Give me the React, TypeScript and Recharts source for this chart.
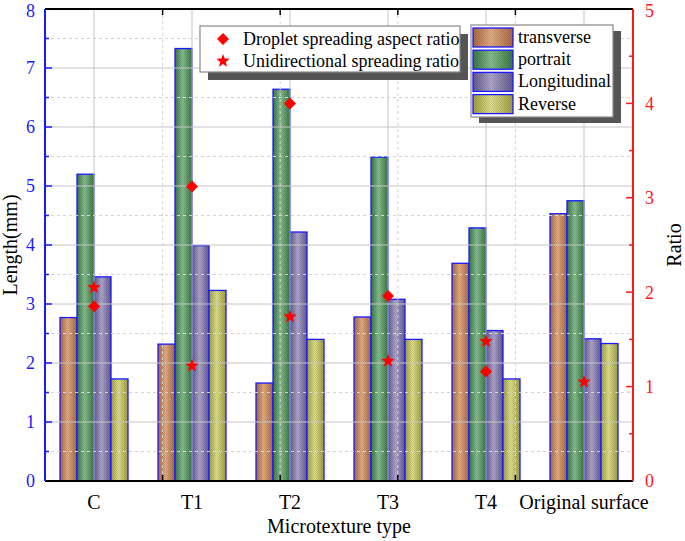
import React from 'react';
import { ComposedChart, Bar, Scatter, XAxis, YAxis, ReferenceLine } from 'recharts';

const categories = ['C', 'T1', 'T2', 'T3', 'T4', 'Original surface'];
const transverse = [2.77, 2.32, 1.66, 2.78, 3.69, 4.53];
const portrait = [5.2, 7.33, 6.64, 5.49, 4.29, 4.75];
const longitudinal = [3.46, 3.99, 4.22, 3.08, 2.55, 2.41];
const reverse = [1.73, 3.23, 2.4, 2.4, 1.73, 2.33];
const aspectRatio: (number | null)[] = [1.85, 3.12, 4.0, 1.96, 1.16, null];
const unidirectionalRatio = [2.05, 1.22, 1.74, 1.27, 1.48, 1.05];

const leftTicks = [0, 1, 2, 3, 4, 5, 6, 7, 8];
const leftGridValues = [0.5, 1, 1.5, 2, 2.5, 3, 3.5, 4, 4.5, 5, 5.5, 6, 6.5, 7, 7.5];
const rightTicks = [0, 1, 2, 3, 4, 5];
const rightMarkValues = [0.5, 1, 1.5, 2, 2.5, 3, 3.5, 4, 4.5];
const boundaries = [1, 2, 3, 4, 5];

const data = categories.map((name, i) => ({
  name,
  transverse: transverse[i],
  portrait: portrait[i],
  longitudinal: longitudinal[i],
  reverse: reverse[i],
  aspect: aspectRatio[i],
  uni: unidirectionalRatio[i],
}));

const FONT = 'Liberation Serif, DejaVu Serif, Times New Roman, serif';

const palette: Record<string, [string, string]> = {
  transverse: ['#b06a3f', '#e8b38a'],
  portrait: ['#3b7a46', '#8cc394'],
  longitudinal: ['#665c90', '#b3abd2'],
  reverse: ['#a4a442', '#e6e692'],
};

const seriesKeys = ['transverse', 'portrait', 'longitudinal', 'reverse'];
const seriesLabels = ['transverse', 'portrait', 'Longitudinal', 'Reverse'];

const Defs = () => (
  <svg width={0} height={0} style={{ position: 'absolute', left: 0, top: 0 }}>
    <defs>
      {seriesKeys.map((k) => (
        <linearGradient key={k} id={`g-${k}`} x1="0" y1="0" x2="1" y2="0">
          <stop offset="0%" stopColor={palette[k][0]} />
          <stop offset="45%" stopColor={palette[k][1]} />
          <stop offset="100%" stopColor={palette[k][0]} />
        </linearGradient>
      ))}
      <pattern id="dots" width="2" height="2" patternUnits="userSpaceOnUse">
        <rect x="0" y="0" width="1" height="1" fill="#000" fillOpacity="0.15" />
        <rect x="1" y="1" width="1" height="1" fill="#000" fillOpacity="0.15" />
      </pattern>
    </defs>
  </svg>
);

const makeBarShape = (k: string) => (props: any) => {
  const { x, y, width, height } = props;
  if (height == null || height <= 0) return <g />;
  return (
    <g>
      <rect x={x} y={y} width={width} height={height} fill={`url(#g-${k})`} />
      <rect x={x} y={y} width={width} height={height} fill="url(#dots)" />
      <rect x={x} y={y} width={width} height={height} fill="none" stroke="#1a1aff" strokeWidth={1.3} />
    </g>
  );
};

const diamondPath = (cx: number, cy: number, r: number) =>
  `M${cx},${cy - r}L${cx + r},${cy}L${cx},${cy + r}L${cx - r},${cy}Z`;

const starPath = (cx: number, cy: number, R: number) => {
  const r = R * 0.42;
  let d = '';
  for (let i = 0; i < 10; i++) {
    const rad = i % 2 === 0 ? R : r;
    const a = -Math.PI / 2 + (i * Math.PI) / 5;
    d += `${i === 0 ? 'M' : 'L'}${cx + rad * Math.cos(a)},${cy + rad * Math.sin(a)}`;
  }
  return d + 'Z';
};

const DiamondShape = (props: any) => {
  const { cx, cy, payload } = props;
  if (payload == null || payload.aspect == null || cx == null || cy == null || isNaN(cy)) return <g />;
  return <path d={diamondPath(cx, cy, 6)} fill="#ff0000" />;
};

const StarShape = (props: any) => {
  const { cx, cy, payload } = props;
  if (payload == null || payload.uni == null || cx == null || cy == null || isNaN(cy)) return <g />;
  return <path d={starPath(cx, cy, 7)} fill="#ff0000" />;
};

const hGrid = (v: number) => (p: any) => {
  const x1 = Math.min(p.x1, p.x2);
  const x2 = Math.max(p.x1, p.x2);
  const y = p.y1;
  const major = Number.isInteger(v);
  return (
    <g>
      <line
        x1={x1}
        x2={x2}
        y1={y}
        y2={y}
        stroke={major ? '#c4c4c4' : '#d4d4d4'}
        strokeWidth={1}
        strokeDasharray={major ? undefined : '3 3'}
      />
      <line x1={x1} x2={x1 + (major ? 7 : 4)} y1={y} y2={y} stroke="#1a1aff" strokeWidth={1.5} />
    </g>
  );
};

const rightMark = (v: number) => (p: any) => {
  const x2 = Math.max(p.x1, p.x2);
  const y = p.y1;
  const major = Number.isInteger(v);
  return <line x1={x2 - (major ? 7 : 4)} x2={x2} y1={y} y2={y} stroke="#ff1a1a" strokeWidth={1.5} />;
};

const vGridCenter = (p: any) => {
  const y1 = Math.min(p.y1, p.y2);
  const y2 = Math.max(p.y1, p.y2);
  return <line x1={p.x1} x2={p.x1} y1={y1} y2={y2} stroke="#c4c4c4" strokeWidth={1} />;
};

const vGridBoundary = (p: any) => {
  const y1 = Math.min(p.y1, p.y2);
  const y2 = Math.max(p.y1, p.y2);
  return (
    <g>
      <line x1={p.x1} x2={p.x1} y1={y1} y2={y2} stroke="#d4d4d4" strokeWidth={1} strokeDasharray="3 3" />
      <line x1={p.x1} x2={p.x1} y1={y1} y2={y1 + 6} stroke="#000" strokeWidth={1.5} />
      <line x1={p.x1} x2={p.x1} y1={y2 - 6} y2={y2} stroke="#000" strokeWidth={1.5} />
    </g>
  );
};

const topLine = (p: any) => {
  const x1 = Math.min(p.x1, p.x2);
  const x2 = Math.max(p.x1, p.x2);
  return <line x1={x1} x2={x2} y1={p.y1} y2={p.y1} stroke="#000" strokeWidth={2} />;
};

const Overlay = () => (
  <svg width={685} height={541} style={{ position: 'absolute', left: 0, top: 0, pointerEvents: 'none' }}>
    {/* scatter legend */}
    <rect x={208} y={34} width={260} height={46} fill="#555" />
    <rect x={200} y={26} width={260} height={46} fill="#fff" stroke="#888" strokeWidth={1.2} />
    <path d={diamondPath(223, 39, 6)} fill="#ff0000" />
    <text x={243} y={45} style={{ fontFamily: FONT, fontSize: 18 }} fill="#000">Droplet spreading aspect ratio</text>
    <path d={starPath(223, 61, 7)} fill="#ff0000" />
    <text x={243} y={67} style={{ fontFamily: FONT, fontSize: 18 }} fill="#000">Unidirectional spreading ratio</text>

    {/* bar legend */}
    <rect x={479} y={31} width={142} height={92} fill="#555" />
    <rect x={471} y={25} width={142} height={92} fill="#fff" stroke="#888" strokeWidth={1.2} />
    {seriesKeys.map((k, i) => {
      const y = 28 + i * 22.2;
      return (
        <g key={k}>
          <rect x={473} y={y} width={40} height={19} fill={`url(#g-${k})`} />
          <rect x={473} y={y} width={40} height={19} fill="url(#dots)" />
          <rect x={473} y={y} width={40} height={19} fill="none" stroke="#1a1aff" strokeWidth={1.3} />
          <text x={518} y={y + 15} style={{ fontFamily: FONT, fontSize: 18 }} fill="#000">
            {seriesLabels[i]}
          </text>
        </g>
      );
    })}

    {/* axis titles */}
    <text
      x={0}
      y={0}
      transform="translate(17,245) rotate(-90)"
      textAnchor="middle"
      style={{ fontFamily: FONT, fontSize: 20 }}
      fill="#000"
    >
      Length(mm)
    </text>
    <text
      x={0}
      y={0}
      transform="translate(681,245) rotate(-90)"
      textAnchor="middle"
      style={{ fontFamily: FONT, fontSize: 20 }}
      fill="#000"
    >
      Ratio
    </text>
    <text x={339} y={533} textAnchor="middle" style={{ fontFamily: FONT, fontSize: 20 }} fill="#000">
      Microtexture type
    </text>
  </svg>
);

export default function App() {
  return (
    <div style={{ position: 'absolute', left: 0, top: 0, width: 685, height: 541, background: '#fff', fontFamily: FONT }}>
      <Defs />
      <ComposedChart
        width={685}
        height={541}
        data={data}
        margin={{ top: 9, right: 0, bottom: 0, left: 0 }}
        barGap={0}
        style={{ fontFamily: FONT }}
      >
        <XAxis xAxisId="bnd" type="number" domain={[0, 6]} hide allowDataOverflow height={0} />
        <XAxis
          dataKey="name"
          xAxisId="cat"
          interval={0}
          height={60}
          axisLine={{ stroke: '#000', strokeWidth: 2 }}
          tickLine={false}
          tickSize={0}
          tickMargin={14}
          tick={{ fill: '#000', fontSize: 20, style: { fontFamily: FONT } }}
        />
        <YAxis
          yAxisId="left"
          domain={[0, 8]}
          ticks={leftTicks}
          width={45}
          axisLine={{ stroke: '#1a1aff', strokeWidth: 2 }}
          tickLine={false}
          tickSize={0}
          tickMargin={10}
          tick={{ fill: '#1a1aff', fontSize: 18, style: { fontFamily: FONT } }}
          allowDataOverflow
        />
        <YAxis
          yAxisId="right"
          orientation="right"
          domain={[0, 5]}
          ticks={rightTicks}
          width={52}
          axisLine={{ stroke: '#ff1a1a', strokeWidth: 2 }}
          tickLine={false}
          tickSize={0}
          tickMargin={12}
          tick={{ fill: '#ff1a1a', fontSize: 18, style: { fontFamily: FONT } }}
          allowDataOverflow
        />

        {leftGridValues.map((v) => (
          <ReferenceLine key={`h${v}`} y={v} yAxisId="left" xAxisId="cat" shape={hGrid(v)} />
        ))}
        {rightMarkValues.map((v) => (
          <ReferenceLine key={`r${v}`} y={v} yAxisId="right" xAxisId="cat" shape={rightMark(v)} />
        ))}
        {categories.map((c) => (
          <ReferenceLine key={`vc${c}`} x={c} xAxisId="cat" yAxisId="left" shape={vGridCenter} />
        ))}
        {boundaries.map((b) => (
          <ReferenceLine key={`vb${b}`} x={b} xAxisId="bnd" yAxisId="left" shape={vGridBoundary} />
        ))}
        <ReferenceLine y={8} yAxisId="left" xAxisId="cat" shape={topLine} />

        {seriesKeys.map((k) => (
          <Bar
            key={k}
            dataKey={k}
            xAxisId="cat"
            yAxisId="left"
            barSize={17}
            isAnimationActive={false}
            shape={makeBarShape(k)}
          />
        ))}
        <Scatter dataKey="aspect" xAxisId="cat" yAxisId="right" isAnimationActive={false} shape={DiamondShape} />
        <Scatter dataKey="uni" xAxisId="cat" yAxisId="right" isAnimationActive={false} shape={StarShape} />
      </ComposedChart>
      <Overlay />
    </div>
  );
}
